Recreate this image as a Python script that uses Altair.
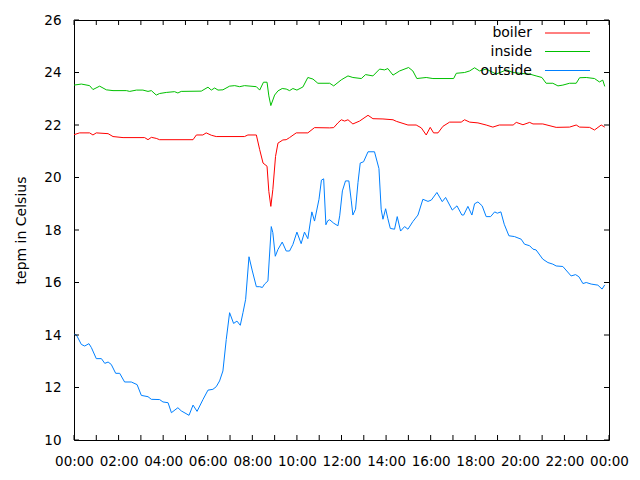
import altair as alt
import pandas as pd

FONT = "DejaVu Sans"

series_names = ["boiler", "inside", "outside"]
series_colors = ["#ff0000", "#00c000", "#0080ff"]

boiler_hours = [0, 0.25, 0.70, 0.85, 1.0, 1.53, 1.75, 2.20, 3.17, 3.32, 3.47, 3.69, 3.84, 5.34, 5.49,
                5.78, 5.93, 6.16, 6.38, 7.65, 7.80, 8.18, 8.33, 8.48, 8.66, 8.74, 8.83, 8.92, 9.04,
                9.15, 9.37, 9.52, 9.67, 9.97, 10.49, 10.79, 11.47, 11.65, 11.84, 11.99, 12.14, 12.29,
                12.51, 12.81, 13.19, 13.41, 13.86, 14.31, 14.46, 14.98, 15.35, 15.58, 15.80, 15.98,
                16.13, 16.33, 16.55, 16.85, 17.37, 17.52, 17.75, 18.12, 18.49, 18.79, 19.08, 19.70,
                19.84, 20.14, 20.44, 20.59, 21.03, 21.63, 22.23, 22.53, 22.68, 23.13, 23.35, 23.65, 23.81]
boiler_temp = [21.63, 21.7, 21.7, 21.62, 21.7, 21.67, 21.56, 21.52, 21.52, 21.44, 21.53, 21.49, 21.44,
               21.44, 21.62, 21.62, 21.7, 21.61, 21.56, 21.56, 21.62, 21.62, 21.06, 20.55, 20.43, 19.47,
               18.9, 19.54, 20.8, 21.31, 21.43, 21.44, 21.52, 21.7, 21.7, 21.9, 21.89, 21.9, 22.08, 22.2,
               22.15, 22.2, 22.04, 22.15, 22.37, 22.24, 22.23, 22.2, 22.14, 22.0, 22.0, 21.89, 21.62,
               21.91, 21.7, 21.7, 21.95, 22.11, 22.11, 22.2, 22.11, 22.08, 22.0, 21.92, 22.0, 22.0, 22.1,
               22.01, 22.1, 22.04, 22.04, 21.91, 21.92, 22.0, 21.92, 21.91, 21.81, 22.0, 21.92]

inside_hours = [0, 0.33, 0.70, 0.85, 1.15, 1.45, 1.75, 2.35, 2.50, 2.80, 3.09, 3.32, 3.47, 3.69, 3.84,
                4.14, 4.51, 4.66, 4.81, 5.71, 6.01, 6.16, 6.31, 6.46, 6.68, 6.98, 7.21, 7.43, 7.65, 8.18,
                8.33, 8.50, 8.66, 8.74, 8.83, 9.00, 9.15, 9.34, 9.52, 9.67, 9.82, 10.0, 10.27, 10.49,
                10.72, 10.94, 11.47, 11.65, 11.99, 12.29, 12.51, 12.89, 13.08, 13.41, 13.71, 13.93,
                14.08, 14.31, 14.61, 15.01, 15.20, 15.38, 15.80, 16.10, 17.03, 17.15, 17.52, 17.75,
                17.97, 18.19, 18.49, 18.94, 19.40, 19.70, 19.99, 20.44, 20.73, 20.99, 21.18, 21.48,
                21.71, 21.93, 22.23, 22.53, 22.68, 22.98, 23.35, 23.57, 23.72, 23.81]
inside_temp = [23.52, 23.56, 23.5, 23.35, 23.48, 23.34, 23.31, 23.31, 23.28, 23.33, 23.33, 23.28, 23.31,
               23.14, 23.2, 23.24, 23.27, 23.22, 23.28, 23.29, 23.44, 23.33, 23.41, 23.33, 23.34, 23.48,
               23.5, 23.46, 23.5, 23.46, 23.33, 23.63, 23.63, 23.11, 22.74, 23.14, 23.3, 23.39, 23.37,
               23.31, 23.39, 23.33, 23.45, 23.81, 23.75, 23.59, 23.59, 23.49, 23.72, 23.87, 23.81, 23.77,
               23.92, 23.87, 24.13, 24.1, 24.15, 23.9, 24.06, 24.19, 24.06, 23.77, 23.81, 23.77, 23.77,
               23.97, 24.0, 24.06, 24.18, 24.06, 24.13, 23.94, 24.1, 24.0, 23.97, 23.94, 23.87, 23.81,
               23.59, 23.59, 23.49, 23.52, 23.59, 23.59, 23.8, 23.81, 23.77, 23.64, 23.71, 23.47]

outside_hours = [0, 0.11, 0.33, 0.48, 0.67, 0.78, 1.0, 1.23, 1.38, 1.53, 1.67, 1.87, 2.05, 2.27, 2.57,
                 2.83, 3.02, 3.32, 3.47, 3.84, 3.99, 4.22, 4.37, 4.66, 4.81, 5.16, 5.34, 5.52, 5.79,
                 6.01, 6.23, 6.38, 6.53, 6.68, 6.83, 6.98, 7.16, 7.31, 7.46, 7.58, 7.70, 7.85, 8.0,
                 8.18, 8.33, 8.45, 8.55, 8.70, 8.85, 8.92, 9.03, 9.15, 9.34, 9.52, 9.67, 9.82, 10.0,
                 10.19, 10.34, 10.49, 10.67, 10.79, 10.99, 11.1, 11.2, 11.3, 11.38, 11.47, 11.65, 11.84,
                 11.92, 12.04, 12.18, 12.33, 12.44, 12.51, 12.63, 12.74, 12.84, 12.99, 13.19, 13.48,
                 13.68, 13.78, 13.86, 13.98, 14.08, 14.19, 14.38, 14.50, 14.65, 14.83, 14.98, 15.20,
                 15.43, 15.65, 15.88, 16.03, 16.28, 16.52, 16.67, 16.97, 17.18, 17.40, 17.48, 17.67,
                 17.85, 17.97, 18.12, 18.31, 18.49, 18.69, 18.87, 18.99, 19.15, 19.30, 19.51, 19.76,
                 20.06, 20.21, 20.44, 20.59, 20.73, 21.03, 21.26, 21.48, 21.63, 21.93, 22.30, 22.50,
                 22.65, 22.83, 22.98, 23.20, 23.50, 23.69, 23.81]
outside_temp = [14.03, 14.0, 13.64, 13.58, 13.67, 13.52, 13.1, 13.1, 12.92, 12.97, 12.88, 12.54, 12.54,
                12.21, 12.21, 12.11, 11.7, 11.65, 11.55, 11.54, 11.45, 11.42, 11.04, 11.23, 11.11, 10.94,
                11.33, 11.09, 11.55, 11.9, 11.93, 12.03, 12.25, 12.63, 13.83, 14.85, 14.44, 14.53, 14.37,
                14.85, 15.36, 16.98, 16.44, 15.84, 15.84, 15.81, 15.94, 16.06, 18.13, 17.9, 17.0, 17.26,
                17.54, 17.2, 17.2, 17.45, 17.92, 17.48, 17.92, 17.67, 18.69, 18.34, 19.17, 19.9, 19.95,
                18.2, 18.35, 18.39, 18.26, 18.16, 18.54, 19.49, 19.87, 19.87, 19.11, 18.57, 18.79, 19.81,
                20.55, 20.6, 20.98, 20.98, 20.34, 18.79, 18.41, 18.81, 18.43, 18.06, 18.03, 18.51, 17.96,
                18.13, 18.03, 18.32, 18.57, 19.17, 19.09, 19.14, 19.43, 19.08, 19.24, 18.76, 18.92, 18.57,
                18.57, 18.9, 18.57, 19.0, 19.07, 18.92, 18.51, 18.51, 18.69, 18.64, 18.69, 18.22, 17.78,
                17.75, 17.65, 17.46, 17.4, 17.27, 17.24, 16.89, 16.76, 16.7, 16.63, 16.61, 16.25, 16.3,
                16.22, 15.96, 16.0, 15.94, 15.9, 15.75, 15.91]

x_label_hours = [0, 2, 4, 6, 8, 10, 12, 14, 16, 18, 20, 22, 24]
x_tick_hours = list(range(0, 25))
y_tick_values = [10, 12, 14, 16, 18, 20, 22, 24, 26]

rows = []
for name, hrs, vals in [("boiler", boiler_hours, boiler_temp),
                        ("inside", inside_hours, inside_temp),
                        ("outside", outside_hours, outside_temp)]:
    for h, v in zip(hrs, vals):
        rows.append({"series": name, "hour": h, "temp": v})
df = pd.DataFrame(rows)

W, H = 535, 420

x_scale = alt.Scale(domain=[0, 24], nice=False, zero=False)
y_scale = alt.Scale(domain=[10, 26], nice=False, zero=False)

x_axis = alt.Axis(values=x_label_hours, title=None, grid=False, ticks=False, domain=False,
                  labelPadding=14, labelFlush=False, labelOverlap=False,
                  labelExpr="(datum.value % 24 < 10 ? '0' : '') + (datum.value % 24) + ':00'")
y_axis = alt.Axis(values=y_tick_values, title="tepm in Celsius", grid=False, ticks=False,
                  domain=False, labelPadding=13, titlePadding=15, labelFlush=False,
                  labelOverlap=False)

X_ENC = alt.X("hour:Q", scale=x_scale, axis=x_axis)
Y_ENC = alt.Y("temp:Q", scale=y_scale, axis=y_axis)

lines = alt.Chart(df).mark_line(strokeWidth=1, clip=True).encode(
    x=X_ENC,
    y=Y_ENC,
    color=alt.Color("series:N", scale=alt.Scale(domain=series_names, range=series_colors), legend=None),
    order=alt.Order("hour:Q"),
)

xt = pd.DataFrame({"hour": x_tick_hours})
yt = pd.DataFrame({"temp": y_tick_values})

tick_bottom = alt.Chart(xt).mark_rule(color="black", strokeWidth=1).encode(
    x=X_ENC, y=alt.value(H), y2=alt.value(H - 5))
tick_top = alt.Chart(xt).mark_rule(color="black", strokeWidth=1).encode(
    x=X_ENC, y=alt.value(0), y2=alt.value(5))
tick_left = alt.Chart(yt).mark_rule(color="black", strokeWidth=1).encode(
    y=Y_ENC, x=alt.value(0), x2=alt.value(5))
tick_right = alt.Chart(yt).mark_rule(color="black", strokeWidth=1).encode(
    y=Y_ENC, x=alt.value(W), x2=alt.value(W - 5))

legend_layers = []
legend_rows = [13, 31.5, 50.5]
for name, color, ly in zip(series_names, series_colors, legend_rows):
    ld = pd.DataFrame({"series": [name]})
    legend_layers.append(
        alt.Chart(ld).mark_rule(color=color, strokeWidth=1).encode(
            x=alt.value(471), x2=alt.value(516), y=alt.value(ly)))
    legend_layers.append(
        alt.Chart(ld).mark_text(align="right", baseline="middle", font=FONT, fontSize=14,
                                color="black").encode(
            text="series:N", x=alt.value(458), y=alt.value(ly)))

chart = alt.layer(lines, tick_bottom, tick_top, tick_left, tick_right, *legend_layers).properties(
    width=W, height=H,
    autosize=alt.AutoSizeParams(type="none"),
    padding={"left": 66, "top": 12, "right": 23, "bottom": 32},
).configure_view(stroke="black", strokeWidth=1).configure_axis(
    labelFont=FONT, labelFontSize=13.5, labelColor="black",
    titleFont=FONT, titleFontSize=14, titleColor="black", titleFontWeight="normal",
)

chart.save("out.html", embed_options={"renderer": "svg", "actions": False})
